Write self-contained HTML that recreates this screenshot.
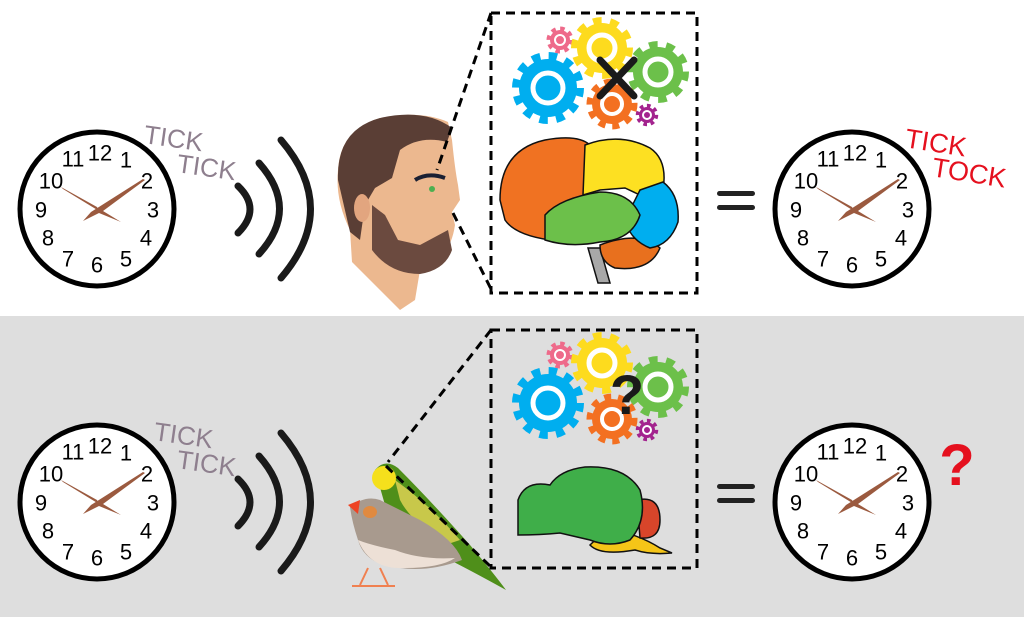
<!DOCTYPE html>
<html><head><meta charset="utf-8"><style>
html,body{margin:0;padding:0;background:#fff}
svg{display:block}
text{font-family:"Liberation Sans",sans-serif}
</style></head><body>
<svg width="1024" height="617" viewBox="0 0 1024 617" xmlns="http://www.w3.org/2000/svg">
<defs>
<g id="clockbody">
<circle r="77" fill="#fff" stroke="#000" stroke-width="5"/>
<path d="M0,-2 L-36,-22 L-34,-20 L2,2 Z" fill="#9b5a3f"/>
<path d="M-6,3 L46,-30 L48,-29 L6,2 L24,13 L2,4 L-14,12 Z" fill="#9b5a3f"/>
</g>
<g id="gears">
<circle cx="548" cy="88" r="29" fill="#00aeef"/>
<circle cx="548" cy="88" r="32" fill="none" stroke="#00aeef" stroke-width="8" stroke-dasharray="8.4 8.4"/>
<circle cx="548" cy="88" r="15" fill="none" stroke="#fff" stroke-width="5"/>
<circle cx="560" cy="40" r="10" fill="#ee6a8a"/>
<circle cx="560" cy="40" r="11.5" fill="none" stroke="#ee6a8a" stroke-width="4" stroke-dasharray="4.5 4.5"/>
<circle cx="560" cy="40" r="5" fill="none" stroke="#fff" stroke-width="2"/>
<circle cx="602" cy="48" r="25" fill="#fddb1e"/>
<circle cx="602" cy="48" r="27.5" fill="none" stroke="#fddb1e" stroke-width="7" stroke-dasharray="8.6 8.6"/>
<circle cx="602" cy="48" r="13" fill="none" stroke="#fff" stroke-width="5"/>
<circle cx="658" cy="72" r="25" fill="#6cc04a"/>
<circle cx="658" cy="72" r="27.5" fill="none" stroke="#6cc04a" stroke-width="7" stroke-dasharray="8.6 8.6"/>
<circle cx="658" cy="72" r="13" fill="none" stroke="#fff" stroke-width="5"/>
<circle cx="612" cy="104" r="20" fill="#f37021"/>
<circle cx="612" cy="104" r="22.5" fill="none" stroke="#f37021" stroke-width="6" stroke-dasharray="7 7"/>
<circle cx="612" cy="104" r="10" fill="none" stroke="#fff" stroke-width="4"/>
<circle cx="647" cy="115" r="8" fill="#a3238e"/>
<circle cx="647" cy="115" r="9.5" fill="none" stroke="#a3238e" stroke-width="3.5" stroke-dasharray="3.7 3.7"/>
<circle cx="647" cy="115" r="4" fill="none" stroke="#fff" stroke-width="2"/>
</g>
<g id="waves" fill="none" stroke="#1a1a1a" stroke-width="7" stroke-linecap="round">
<path d="M238,186 Q262,209 238,233"/>
<path d="M259,163 Q300,209 259,254"/>
<path d="M281,140 Q340,209 281,278"/>
</g>
</defs>

<rect x="0" y="0" width="1024" height="316" fill="#fff"/>
<rect x="0" y="316" width="1024" height="301" fill="#dedede"/>

<!-- ===== TOP ===== -->
<g transform="translate(97,209)"><use href="#clockbody"/>
<g font-size="22" text-anchor="middle" dominant-baseline="central">
<text x="3" y="-56">12</text><text x="29" y="-49">1</text><text x="50" y="-28">2</text><text x="56" y="1">3</text><text x="49" y="29">4</text><text x="29" y="50">5</text><text x="0" y="56">6</text><text x="-29" y="50">7</text><text x="-49" y="29">8</text><text x="-56" y="1">9</text><text x="-46" y="-28">10</text><text x="-24" y="-50">11</text>
</g></g>
<text x="143" y="143" font-size="26" fill="#8e7f8e" transform="rotate(8 143 143)">TICK</text>
<text x="176" y="172" font-size="26" fill="#8e7f8e" transform="rotate(8 176 172)">TICK</text>
<use href="#waves"/>

<!-- face -->
<path d="M352,262 L350,230 Q335,200 338,170 Q340,130 380,118 Q420,110 448,122 L452,140 Q455,170 458,185 L460,200 L452,212 L455,225 Q450,260 420,270 L415,300 L400,310 Z" fill="#ecb88f"/>
<path d="M338,180 Q336,130 380,118 Q425,108 452,128 L447,142 Q420,135 400,150 L392,178 L375,188 L365,205 L360,240 L350,232 Z" fill="#5a3e35"/>
<path d="M372,205 L385,215 L398,240 L420,245 L448,230 L452,250 Q445,270 420,274 Q390,274 372,250 Z" fill="#6b4a3f"/>
<ellipse cx="362" cy="208" rx="8" ry="14" fill="#e2a57f"/>
<path d="M415,180 Q428,172 445,178" stroke="#1a2033" stroke-width="4" fill="none"/>
<circle cx="432" cy="189" r="3" fill="#4caf50"/>

<g fill="none" stroke="#000" stroke-width="3" stroke-dasharray="9 6">
<rect x="491" y="13" width="206" height="280"/>
<path d="M491,13 L437,170"/>
<path d="M453,213 L493,293"/>
</g>
<use href="#gears"/>
<path d="M600,60 L634,96 M634,60 L600,96" stroke="#1a1a1a" stroke-width="7" stroke-linecap="round"/>

<g stroke="#111" stroke-width="1.5">
<path d="M588,248 L600,248 L610,283 L598,283 Z" fill="#a8a8a8"/>
<path d="M600,245 Q640,230 660,248 Q650,272 615,268 Q600,262 600,245 Z" fill="#e8701e"/>
<path d="M500,200 Q500,150 545,140 Q578,134 590,145 L585,195 L560,210 L550,240 Q515,235 505,220 Z" fill="#f07222"/>
<path d="M585,145 Q620,132 650,148 Q668,160 663,190 L640,195 L625,188 L600,190 L583,195 Z" fill="#fde022"/>
<path d="M640,190 L663,182 Q680,195 678,222 Q670,245 650,248 Q630,240 625,220 Z" fill="#00aeef"/>
<path d="M545,215 Q560,198 600,192 Q630,192 640,215 Q632,240 600,242 Q570,248 545,240 Z" fill="#6cc04a"/>
</g>

<rect x="717" y="191" width="38" height="5" rx="2.5" fill="#222"/>
<rect x="717" y="205" width="38" height="5" rx="2.5" fill="#222"/>

<g transform="translate(852,209)"><use href="#clockbody"/>
<g font-size="22" text-anchor="middle" dominant-baseline="central">
<text x="3" y="-56">12</text><text x="29" y="-49">1</text><text x="50" y="-28">2</text><text x="56" y="1">3</text><text x="49" y="29">4</text><text x="29" y="50">5</text><text x="0" y="56">6</text><text x="-29" y="50">7</text><text x="-49" y="29">8</text><text x="-56" y="1">9</text><text x="-46" y="-28">10</text><text x="-24" y="-50">11</text>
</g></g>
<text x="904" y="147" font-size="27" fill="#e5101e" transform="rotate(9 904 147)">TICK</text>
<text x="931" y="176" font-size="27" fill="#e5101e" transform="rotate(9 931 176)">TOCK</text>

<!-- ===== BOTTOM ===== -->
<g transform="translate(97,502)"><use href="#clockbody"/>
<g font-size="22" text-anchor="middle" dominant-baseline="central">
<text x="3" y="-56">12</text><text x="29" y="-49">1</text><text x="50" y="-28">2</text><text x="56" y="1">3</text><text x="49" y="29">4</text><text x="29" y="50">5</text><text x="0" y="56">6</text><text x="-29" y="50">7</text><text x="-49" y="29">8</text><text x="-56" y="1">9</text><text x="-46" y="-28">10</text><text x="-24" y="-50">11</text>
</g></g>
<text x="153" y="440" font-size="26" fill="#8e7f8e" transform="rotate(8 153 440)">TICK</text>
<text x="176" y="468" font-size="26" fill="#8e7f8e" transform="rotate(8 176 468)">TICK</text>
<g transform="translate(0,293)"><use href="#waves"/></g>

<path d="M375,470 Q385,458 398,468 Q430,500 470,545 Q495,575 506,590 Q470,570 440,555 Q400,535 385,505 Z" fill="#4f8f1a"/>
<path d="M395,480 Q430,505 460,540 L445,545 Q410,520 400,500 Z" fill="#c8c84a"/>
<circle cx="384" cy="478" r="12" fill="#f5e01c"/>
<path d="M350,507 Q365,495 380,500 Q400,510 420,520 Q455,540 462,560 Q430,572 400,568 Q365,565 358,540 Q352,522 350,507 Z" fill="#a89a8e"/>
<path d="M358,540 Q370,570 405,568 Q440,568 455,558 Q420,560 395,550 Q370,545 358,540 Z" fill="#ede0d6"/>
<path d="M348,505 L360,500 L358,514 Z" fill="#ee4323"/>
<ellipse cx="370" cy="512" rx="7" ry="6" fill="#e08a40"/>
<path d="M368,568 L360,585 M380,568 L388,585 M352,586 L395,586" stroke="#f08050" stroke-width="2"/>

<g fill="none" stroke="#000" stroke-width="3" stroke-dasharray="9 6">
<rect x="491" y="330" width="206" height="238"/>
<path d="M491,330 L388,462"/>
<path d="M386,466 L491,567"/>
</g>
<g transform="translate(0,315)"><use href="#gears"/></g>
<text x="627" y="414" font-size="56" font-weight="bold" fill="#1a1a1a" text-anchor="middle">?</text>

<g stroke="#111" stroke-width="1.5">
<path d="M608,528 Q640,535 660,548 L672,553 Q650,555 635,550 Q600,556 590,545 Z" fill="#f5c518"/>
<path d="M637,500 Q660,495 660,520 Q660,540 640,538 Z" fill="#d8452a"/>
<path d="M518,530 L518,500 Q525,480 550,485 Q560,470 585,467 Q625,465 640,490 Q648,520 630,540 Q610,548 590,540 L560,533 Q540,535 518,535 Z" fill="#3fae49"/>
</g>

<rect x="717" y="484" width="38" height="5" rx="2.5" fill="#222"/>
<rect x="717" y="498" width="38" height="5" rx="2.5" fill="#222"/>

<g transform="translate(852,502)"><use href="#clockbody"/>
<g font-size="22" text-anchor="middle" dominant-baseline="central">
<text x="3" y="-56">12</text><text x="29" y="-49">1</text><text x="50" y="-28">2</text><text x="56" y="1">3</text><text x="49" y="29">4</text><text x="29" y="50">5</text><text x="0" y="56">6</text><text x="-29" y="50">7</text><text x="-49" y="29">8</text><text x="-56" y="1">9</text><text x="-46" y="-28">10</text><text x="-24" y="-50">11</text>
</g></g>
<text x="957" y="485" font-size="58" font-weight="bold" fill="#e5101e" text-anchor="middle">?</text>
</svg>
</body></html>
